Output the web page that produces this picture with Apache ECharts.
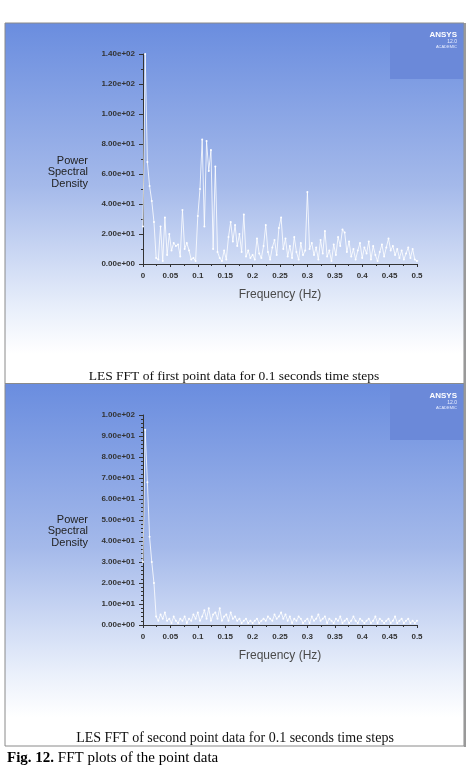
<!DOCTYPE html>
<html>
<head>
<meta charset="utf-8">
<script src="https://cdn.jsdelivr.net/npm/echarts@6/dist/echarts.min.js"></script>
<style>
  html, body { margin: 0; padding: 0; background: #fff; }
  #chart { width: 469px; height: 777px; }
</style>
</head>
<body>
<div id="chart"></div>
<script>
// FFT bins, 0 .. 0.5 Hz
var binStep = 0.004;

// first point PSD
var psdFirst = [
  25, 140, 68, 52, 42, 28, 4, 3, 25, 2,
  31, 6, 20, 9, 14, 12, 13, 5, 36, 10,
  14, 9, 3, 4, 2, 32, 50, 83, 25, 82,
  62, 76, 10, 65, 8, 4, 2, 9, 3, 18,
  28, 15, 26, 12, 20, 8, 33, 5, 9, 4,
  6, 3, 17, 7, 4, 12, 26, 8, 3, 11,
  16, 6, 24, 31, 10, 17, 5, 12, 4, 18,
  8, 3, 14, 6, 9, 48, 10, 14, 6, 11,
  3, 16, 7, 22, 5, 9, 2, 13, 6, 18,
  12, 23, 21, 8, 15, 5, 10, 3, 9, 14,
  4, 11, 7, 15, 3, 12, 6, 2, 8, 13,
  5, 11, 17, 9, 12, 6, 10, 4, 9, 3,
  7, 11, 4, 10, 3, 2
];

// second point PSD
var psdSecond = [
  30, 93, 68, 42, 30, 20, 4, 2, 5, 3,
  6, 2, 3, 1, 4, 2, 1, 3, 2, 4,
  1, 3, 2, 5, 3, 6, 2, 4, 7, 3,
  8, 2, 5, 6, 3, 8, 2, 4, 5, 2,
  6, 3, 4, 2, 3, 1, 2, 3, 1, 2,
  1, 2, 3, 1, 2, 3, 2, 4, 3, 2,
  5, 3, 4, 6, 3, 5, 2, 4, 1, 3,
  2, 4, 3, 1, 2, 3, 1, 4, 2, 3,
  5, 2, 3, 4, 1, 3, 2, 1, 3, 2,
  4, 1, 2, 3, 1, 2, 4, 2, 1, 3,
  2, 1, 2, 3, 1, 2, 4, 1, 3, 2,
  1, 2, 3, 1, 2, 4, 1, 2, 3, 1,
  2, 3, 1, 2, 1, 2
];

var captions = [
  'LES FFT of first point data for 0.1 seconds time steps',
  'LES FFT of second point data for 0.1 seconds time steps'
];

function toPairs(arr) {
  return arr.map(function(v, i) {
    return [+(i * binStep).toFixed(4), v];
  });
}

function expLabel(v) {
  var s = v.toExponential(2);
  var m = s.split('e');
  var e = parseInt(m[1], 10);
  var sign = e < 0 ? '-' : '+';
  e = Math.abs(e);
  return m[0] + 'e' + sign + (e < 10 ? '0' + e : e);
}

var panelGrad = function() {
  return new echarts.graphic.LinearGradient(0, 0, 0, 1, [
    { offset: 0, color: '#6a8ddf' },
    { offset: 0.45, color: '#a4b9ea' },
    { offset: 0.8, color: '#eaf0fb' },
    { offset: 0.92, color: '#ffffff' },
    { offset: 1, color: '#ffffff' }
  ]);
};

function xAxisCfg(gi) {
  return {
    type: 'value', gridIndex: gi, min: 0, max: 0.5, interval: 0.05,
    name: 'Frequency (Hz)', nameLocation: 'middle', nameGap: 25,
    nameTextStyle: { fontFamily: 'Liberation Sans', fontSize: 12, color: '#4a4a4a' },
    axisLine: { lineStyle: { color: '#333', width: 1 } },
    axisTick: { show: true, length: 3, lineStyle: { color: '#333' } },
    minorTick: { show: true, splitNumber: 2, length: 2, lineStyle: { color: '#333' } },
    axisLabel: { fontFamily: 'Liberation Sans', fontSize: 8, fontWeight: 'bold', color: '#333', margin: 8 },
    splitLine: { show: false }
  };
}

function yAxisCfg(gi, max, interval, minorSplit) {
  return {
    type: 'value', gridIndex: gi, min: 0, max: max, interval: interval,
    axisLine: { show: true, lineStyle: { color: '#333', width: 1 } },
    axisTick: { show: true, inside: false, length: 4, lineStyle: { color: '#333' } },
    minorTick: { show: true, splitNumber: minorSplit, length: 2, lineStyle: { color: '#333' } },
    axisLabel: {
      fontFamily: 'Liberation Sans', fontSize: 8, fontWeight: 'bold', color: '#333', margin: 8,
      formatter: expLabel
    },
    splitLine: { show: false }
  };
}

function seriesCfg(gi, data) {
  return {
    type: 'line', xAxisIndex: gi, yAxisIndex: gi,
    data: toPairs(data),
    symbol: 'circle', symbolSize: 2,
    itemStyle: { color: '#ffffff' },
    lineStyle: { color: 'rgba(255,255,255,0.8)', width: 1 },
    animation: false
  };
}

function ansysBox(top) {
  return [
    { type: 'rect', shape: { x: 390, y: top, width: 73, height: 55 },
      style: { fill: '#6b89d9' }, z: 1, silent: true },
    { type: 'text', x: 457, y: top + 7,
      style: { text: 'ANSYS', fill: '#ffffff', font: 'bold 8px Liberation Sans', align: 'right' }, z: 2 },
    { type: 'text', x: 457, y: top + 15,
      style: { text: '12.0', fill: '#e8eeff', font: '5px Liberation Sans', align: 'right' }, z: 2 },
    { type: 'text', x: 457, y: top + 21,
      style: { text: 'ACADEMIC', fill: '#e8eeff', font: '4px Liberation Sans', align: 'right' }, z: 2 }
  ];
}

function psdLabel(top) {
  return { type: 'text', x: 88, y: top,
    style: { text: 'Power\nSpectral\nDensity', fill: '#222', font: '11px Liberation Sans',
      align: 'right', lineHeight: 11.5 }, z: 2 };
}

var chart = echarts.init(document.getElementById('chart'), null, { renderer: 'canvas' });

var option = {
  backgroundColor: '#ffffff',
  animation: false,
  graphic: [
    { type: 'rect', shape: { x: 5, y: 23, width: 459, height: 360 },
      style: { fill: panelGrad() }, z: 0, silent: true },
    { type: 'rect', shape: { x: 5, y: 384, width: 459, height: 362 },
      style: { fill: panelGrad() }, z: 0, silent: true },
    { type: 'rect', shape: { x: 5, y: 23, width: 459, height: 723 },
      style: { fill: null, stroke: '#8a8a8a', lineWidth: 1 }, z: 3, silent: true },
    { type: 'line', shape: { x1: 5, y1: 383.5, x2: 464, y2: 383.5 },
      style: { stroke: '#8a8a8a', lineWidth: 1 }, z: 3, silent: true },
    { type: 'line', shape: { x1: 465, y1: 23, x2: 465, y2: 747 },
      style: { stroke: '#999', lineWidth: 2 }, z: 3, silent: true }
  ].concat(ansysBox(24), ansysBox(385), [
    psdLabel(155),
    psdLabel(514),
    { type: 'text', x: 234, y: 369,
      style: { text: captions[0], fill: '#111', font: '13.5px Liberation Serif', align: 'center' }, z: 4 },
    { type: 'text', x: 235, y: 731,
      style: { text: captions[1], fill: '#111', font: '14px Liberation Serif', align: 'center' }, z: 4 },
    { type: 'text', x: 7, y: 751,
      style: {
        rich: {
          b: { font: 'bold 15px Liberation Serif', fill: '#000' },
          n: { font: '15px Liberation Serif', fill: '#000' }
        },
        text: '{b|Fig. 12.}{n| FFT plots of the point data}'
      }, z: 4 }
  ]),
  grid: [
    { left: 143, top: 54, width: 274, height: 210 },
    { left: 143, top: 415, width: 274, height: 210 }
  ],
  xAxis: [xAxisCfg(0), xAxisCfg(1)],
  yAxis: [yAxisCfg(0, 140, 20, 2), yAxisCfg(1, 100, 10, 5)],
  series: [seriesCfg(0, psdFirst), seriesCfg(1, psdSecond)]
};

chart.setOption(option);
</script>
</body>
</html>
